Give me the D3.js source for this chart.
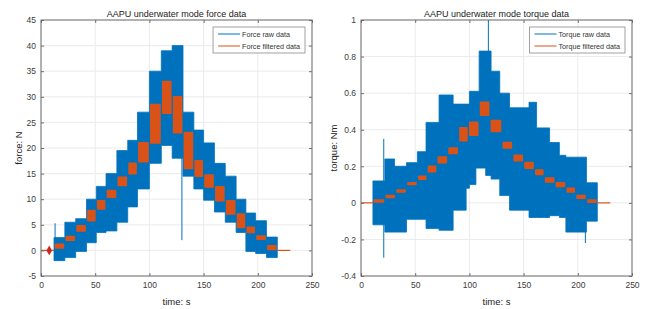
<!DOCTYPE html>
<html>
<head>
<meta charset="utf-8">
<script src="https://cdn.jsdelivr.net/npm/d3@7"></script>
<style>
  body { margin: 0; background: #fff; }
  svg { display: block; font-family: "Liberation Sans", Arial, sans-serif; }
</style>
</head>
<body>
<div id="chart"></div>
<script>
// Shared axis ticks
const timeTicks = [0, 50, 100, 150, 200, 250];
const forceTicks = [-5, 0, 5, 10, 15, 20, 25, 30, 35, 40, 45];
const torqueTicks = [-0.4, -0.2, 0, 0.2, 0.4, 0.6, 0.8, 1];

// Force raw data, read as an envelope per load step (last time = end of last step)
const forceRawT  = [12, 22, 32, 42, 51, 60, 70, 80, 89, 100, 111, 121, 131, 141, 150, 160, 170, 180, 189, 198, 208, 218];
const forceRawLo = [-2.0, -1.4, -0.2, 1.5, 3.5, 3.8, 5.5, 8.5, 12.0, 17.0, 20.5, 18.0, 14.5, 12.0, 9.8, 7.5, 5.5, 3.5, -0.2, -0.6, -1.4];
const forceRawHi = [2.5, 5.5, 6.2, 10.0, 12.5, 15.0, 19.5, 21.5, 27.0, 35.0, 39.0, 40.0, 27.0, 23.5, 21.0, 17.0, 14.5, 10.0, 7.3, 5.8, 2.6];
// isolated spikes in the raw force signal: time, low, high
const forceSpikeT  = [13, 130];
const forceSpikeLo = [1.0, 2.0];
const forceSpikeHi = [5.3, 19.0];

// Force filtered data, band per step
const forceFiltT  = [12, 22, 32, 42, 51, 60, 70, 80, 89, 100, 111, 121, 131, 141, 150, 160, 170, 180, 189, 198, 208, 218];
const forceFiltLo = [0.5, 2.0, 3.8, 5.8, 8.1, 10.4, 12.7, 15.0, 17.3, 21.0, 26.8, 23.0, 16.0, 14.5, 12.4, 9.7, 7.1, 4.5, 3.5, 2.2, 0.2];
const forceFiltHi = [1.2, 2.7, 4.8, 7.8, 9.7, 11.7, 14.3, 17.0, 21.0, 28.5, 33.0, 30.0, 23.0, 17.5, 14.7, 12.4, 9.7, 7.1, 4.5, 2.8, 0.9];
// idle segments of the filtered force (flat at zero)
const forceIdleStart = [0, 218];
const forceIdleEnd   = [12, 230];
const forceMarkerT = [7.6];
const forceMarkerV = [0];

// Torque raw data envelope
const torqueRawT  = [11, 22, 31, 42, 52, 60, 72, 85, 97, 100, 106, 109, 115, 120, 128, 137, 155, 162, 174, 183, 189, 208, 218];
const torqueRawLo = [-0.12, -0.16, -0.16, -0.09, -0.09, -0.14, -0.15, -0.04, 0.08, 0.10, 0.19, 0.19, 0.15, 0.13, 0.04, -0.04, -0.08, -0.08, -0.07, -0.08, -0.16, -0.10];
const torqueRawHi = [0.12, 0.24, 0.20, 0.22, 0.28, 0.44, 0.59, 0.54, 0.54, 0.61, 0.61, 0.83, 0.83, 0.72, 0.60, 0.52, 0.55, 0.41, 0.33, 0.26, 0.25, 0.11];
const torqueSpikeT  = [21, 117.5, 207];
const torqueSpikeLo = [-0.30, 0.50, -0.22];
const torqueSpikeHi = [0.35, 1.00, 0.00];

// Torque filtered data, band per step
const torqueFiltT  = [11, 22, 32, 42, 52, 61, 70, 80, 90, 99, 109, 119, 130, 140, 150, 160, 169, 179, 189, 198, 208, 218];
const torqueFiltLo = [0.005, 0.03, 0.06, 0.10, 0.13, 0.17, 0.22, 0.27, 0.34, 0.37, 0.48, 0.39, 0.30, 0.23, 0.19, 0.155, 0.115, 0.09, 0.06, 0.025, 0.003];
const torqueFiltHi = [0.015, 0.04, 0.07, 0.11, 0.145, 0.20, 0.25, 0.30, 0.41, 0.44, 0.55, 0.45, 0.33, 0.26, 0.22, 0.18, 0.135, 0.11, 0.08, 0.04, 0.015];
const torqueIdleStart = [0, 218];
const torqueIdleEnd   = [11, 230];

const BLUE = '#0072bd';
const ORANGE = '#d95319';

const svg = d3.select('#chart').append('svg')
    .attr('width', 649)
    .attr('height', 309);

svg.append('rect').attr('width', 649).attr('height', 309).attr('fill', '#fff');

/**
 * Draw one MATLAB-style subplot
 */
function drawPanel(p) {
    const top = 20, bottom = 276;
    const x = d3.scaleLinear().domain([0, 250]).range([p.left, p.right]);
    const y = d3.scaleLinear().domain(p.yDomain).range([bottom, top]);
    const g = svg.append('g');

    // grid
    g.append('g').selectAll('line.gy')
        .data(p.yTicks)
        .enter().append('line')
        .attr('x1', p.left).attr('x2', p.right)
        .attr('y1', d => y(d)).attr('y2', d => y(d))
        .style('stroke', '#ebebeb');
    g.append('g').selectAll('line.gx')
        .data(timeTicks)
        .enter().append('line')
        .attr('x1', d => x(d)).attr('x2', d => x(d))
        .attr('y1', top).attr('y2', bottom)
        .style('stroke', '#ebebeb');

    // raw data envelope
    const n = p.rawT.length - 1;
    const rawPts = p.rawT.map((t, i) => ({ t, lo: p.rawLo[Math.min(i, n - 1)], hi: p.rawHi[Math.min(i, n - 1)] }));
    g.append('path')
        .datum(rawPts)
        .attr('d', d3.area()
            .curve(d3.curveStepAfter)
            .x(d => x(d.t))
            .y0(d => y(d.lo))
            .y1(d => y(d.hi)))
        .style('fill', BLUE)
        .style('stroke', BLUE)
        .style('stroke-width', 0.8);

    g.append('g').selectAll('line')
        .data(p.spikeT)
        .enter().append('line')
        .attr('x1', d => x(d)).attr('x2', d => x(d))
        .attr('y1', (d, i) => y(p.spikeLo[i]))
        .attr('y2', (d, i) => y(p.spikeHi[i]))
        .style('stroke', BLUE)
        .style('stroke-width', 1);

    // filtered data
    g.append('g').selectAll('line')
        .data(p.idleStart)
        .enter().append('line')
        .attr('x1', d => x(d))
        .attr('x2', (d, i) => x(p.idleEnd[i]))
        .attr('y1', y(0)).attr('y2', y(0))
        .style('stroke', ORANGE)
        .style('stroke-width', 1.2);

    const blocks = p.filtLo.map((lo, i) => ({ t0: p.filtT[i], t1: p.filtT[i + 1], lo, hi: p.filtHi[i] }));
    g.append('g').selectAll('rect')
        .data(blocks)
        .enter().append('rect')
        .attr('x', d => x(d.t0 + 1.3))
        .attr('width', d => x(d.t1 - 1.3) - x(d.t0 + 1.3))
        .attr('y', d => y(d.hi))
        .attr('height', d => y(d.lo) - y(d.hi))
        .style('fill', ORANGE)
        .style('stroke', ORANGE)
        .style('stroke-width', 1.6)
        .style('stroke-linejoin', 'round');

    if (p.markerT) {
        g.selectAll('path.marker')
            .data(p.markerT)
            .enter().append('path')
            .attr('class', 'marker')
            .attr('transform', (d, i) => `translate(${x(d)},${y(p.markerV[i])})`)
            .attr('d', d3.symbol().type(d3.symbolDiamond).size(28))
            .style('fill', '#c8281e');
    }

    // axes, ticks pointing inward on all four sides
    const axisColor = '#6e6e6e';
    g.append('g')
        .attr('transform', `translate(0,${bottom})`)
        .call(d3.axisBottom(x).tickValues(timeTicks).tickSize(-3).tickPadding(6));
    g.append('g')
        .attr('transform', `translate(0,${top})`)
        .call(d3.axisTop(x).tickValues(timeTicks).tickSize(-3).tickFormat(''));
    g.append('g')
        .attr('transform', `translate(${p.left},0)`)
        .call(d3.axisLeft(y).tickValues(p.yTicks).tickSize(-3).tickPadding(5).tickFormat(d => String(d)));
    g.append('g')
        .attr('transform', `translate(${p.right},0)`)
        .call(d3.axisRight(y).tickValues(p.yTicks).tickSize(-3).tickFormat(''));

    g.selectAll('.domain').remove();
    g.selectAll('.tick line').style('stroke', axisColor);
    g.selectAll('.tick text')
        .style('font-size', '8.5px')
        .style('font-family', '"Liberation Sans", Arial, sans-serif')
        .style('fill', '#3c3c3c');

    g.append('rect')
        .attr('x', p.left).attr('y', top)
        .attr('width', p.right - p.left).attr('height', bottom - top)
        .style('fill', 'none')
        .style('stroke', axisColor)
        .style('stroke-width', 1);

    // titles
    const mid = (p.left + p.right) / 2;
    g.append('text')
        .attr('x', mid).attr('y', 16.5)
        .attr('text-anchor', 'middle')
        .style('font-size', '9px')
        .style('fill', '#222')
        .text(p.title);
    g.append('text')
        .attr('x', mid).attr('y', 305)
        .attr('text-anchor', 'middle')
        .style('font-size', '9.5px')
        .style('fill', '#222')
        .text('time: s');
    g.append('text')
        .attr('transform', `translate(${p.yLabelX},${(top + bottom) / 2}) rotate(-90)`)
        .attr('text-anchor', 'middle')
        .style('font-size', '9.5px')
        .style('fill', '#222')
        .text(p.yLabel);

    // legend
    const leg = g.append('g');
    const box = leg.append('rect')
        .style('fill', '#fff')
        .style('stroke', '#8a8a8a')
        .style('stroke-width', 0.8);
    const labels = [p.rawLabel, p.filtLabel];
    const colors = [BLUE, ORANGE];
    let maxLen = 0;
    labels.forEach((lab, i) => {
        const ty = 36.5 + i * 12;
        const t = leg.append('text')
            .attr('x', 29)
            .attr('y', ty)
            .style('font-size', '7.2px')
            .style('fill', '#333')
            .text(lab);
        maxLen = Math.max(maxLen, t.node().getComputedTextLength());
        leg.append('line')
            .attr('x1', 5).attr('x2', 27)
            .attr('y1', ty - 2.5).attr('y2', ty - 2.5)
            .style('stroke', colors[i])
            .style('stroke-width', 1);
    });
    const legW = 29 + maxLen + 5;
    box.attr('x', 0).attr('y', 27).attr('width', legW).attr('height', 26);
    leg.attr('transform', `translate(${p.right - 7 - legW},0)`);
}

drawPanel({
    left: 41, right: 312,
    yDomain: [-5, 45], yTicks: forceTicks,
    rawT: forceRawT, rawLo: forceRawLo, rawHi: forceRawHi,
    spikeT: forceSpikeT, spikeLo: forceSpikeLo, spikeHi: forceSpikeHi,
    filtT: forceFiltT, filtLo: forceFiltLo, filtHi: forceFiltHi,
    idleStart: forceIdleStart, idleEnd: forceIdleEnd,
    markerT: forceMarkerT, markerV: forceMarkerV,
    title: 'AAPU underwater mode force data',
    yLabel: 'force: N', yLabelX: 21.5,
    rawLabel: 'Force raw data', filtLabel: 'Force filtered data'
});

drawPanel({
    left: 361, right: 632,
    yDomain: [-0.4, 1], yTicks: torqueTicks,
    rawT: torqueRawT, rawLo: torqueRawLo, rawHi: torqueRawHi,
    spikeT: torqueSpikeT, spikeLo: torqueSpikeLo, spikeHi: torqueSpikeHi,
    filtT: torqueFiltT, filtLo: torqueFiltLo, filtHi: torqueFiltHi,
    idleStart: torqueIdleStart, idleEnd: torqueIdleEnd,
    title: 'AAPU underwater mode torque data',
    yLabel: 'torque: Nm', yLabelX: 336.5,
    rawLabel: 'Torque raw data', filtLabel: 'Torque filtered data'
});
</script>
</body>
</html>
